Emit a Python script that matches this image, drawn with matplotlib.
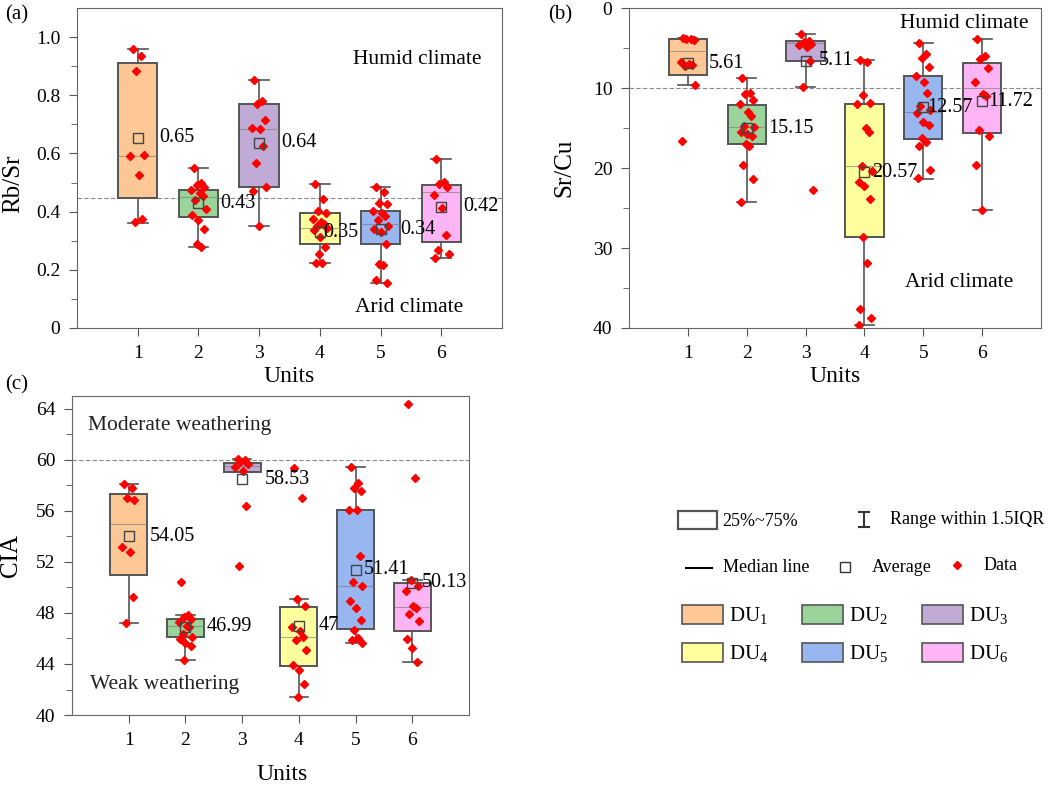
import matplotlib
matplotlib.use("Agg")
import matplotlib.pyplot as plt
from matplotlib.patches import Rectangle

plt.rcParams["font.family"] = ["Liberation Serif", "DejaVu Serif"]
plt.rcParams["mathtext.default"] = "regular"

UNITS = [1, 2, 3, 4, 5, 6]
COLORS = ["#fdc896", "#9ad49a", "#c0aad6", "#ffff9e", "#98b6f0", "#ffb4f5"]

# ---- (a) Rb/Sr -------------------------------------------------------------
RBSR_Q1 = [0.448, 0.383, 0.486, 0.290, 0.289, 0.295]
RBSR_MED = [0.592, 0.450, 0.685, 0.345, 0.358, 0.469]
RBSR_Q3 = [0.912, 0.475, 0.771, 0.394, 0.402, 0.491]
RBSR_LO = [0.362, 0.279, 0.351, 0.223, 0.153, 0.242]
RBSR_HI = [0.958, 0.549, 0.851, 0.494, 0.486, 0.580]
RBSR_MEAN = [0.654, 0.429, 0.637, 0.330, 0.339, 0.417]
RBSR_LABELS = ["0.65", "0.43", "0.64", "0.35", "0.34", "0.42"]
RBSR_DATA = [
    [0.96, 0.935, 0.885, 0.595, 0.59, 0.525, 0.375, 0.365],
    [0.549, 0.50, 0.49, 0.486, 0.474, 0.463, 0.454, 0.44, 0.41, 0.39,
     0.371, 0.34, 0.288, 0.279],
    [0.851, 0.78, 0.771, 0.714, 0.688, 0.685, 0.625, 0.568, 0.486, 0.471, 0.351],
    [0.494, 0.445, 0.402, 0.394, 0.375, 0.366, 0.358, 0.349, 0.343, 0.337,
     0.314, 0.28, 0.255, 0.223, 0.223],
    [0.486, 0.469, 0.431, 0.426, 0.402, 0.394, 0.385, 0.371, 0.351, 0.339,
     0.331, 0.288, 0.219, 0.215, 0.166, 0.153],
    [0.58, 0.503, 0.495, 0.486, 0.457, 0.411, 0.32, 0.269, 0.255, 0.242],
]
RBSR_THRESHOLD = 0.446

# ---- (b) Sr/Cu -------------------------------------------------------------
SRCU_Q1 = [3.9, 12.08, 4.17, 11.96, 8.54, 6.9]
SRCU_MED = [5.42, 14.92, 4.38, 19.75, 13.0, 10.0]
SRCU_Q3 = [8.42, 17.0, 6.58, 28.58, 16.4, 15.6]
SRCU_LO = [3.8, 8.71, 3.25, 6.54, 4.375, 3.9]
SRCU_HI = [9.58, 24.25, 9.875, 39.67, 21.33, 25.2]
SRCU_MEAN = [6.9, 15.0, 6.58, 20.5, 12.4, 11.67]
SRCU_LABELS = ["5.61", "15.15", "5.11", "20.57", "12.57", "11.72"]
SRCU_DATA = [
    [3.8, 3.85, 3.9, 3.95, 6.75, 6.96, 7.17, 7.3, 9.58, 16.67],
    [8.71, 10.6, 10.8, 11.46, 12.0, 13.04, 13.46, 14.7, 14.9, 15.5, 15.8,
     16.0, 17.0, 17.3, 19.67, 21.33, 24.25],
    [3.25, 4.08, 4.3, 4.5, 4.67, 4.9, 6.58, 9.9, 22.8],
    [6.54, 6.8, 10.83, 11.9, 12.04, 15.0, 15.46, 19.8, 20.4, 21.8, 22.3,
     23.9, 28.6, 31.9, 37.6, 38.75, 39.67],
    [4.4, 5.8, 6.2, 7.4, 8.5, 9.3, 10.6, 12.3, 12.7, 13.1, 14.3, 14.6,
     16.25, 16.8, 17.3, 20.2, 21.3],
    [3.9, 6.0, 6.4, 7.5, 9.3, 10.8, 11.0, 15.2, 16.0, 19.6, 25.2],
]
SRCU_THRESHOLD = 10

# ---- (c) CIA ---------------------------------------------------------------
CIA_Q1 = [51.0, 46.15, 59.07, 43.88, 46.72, 46.62]
CIA_MED = [54.96, 47.0, 59.52, 46.1, 50.14, 48.47]
CIA_Q3 = [57.35, 47.53, 59.78, 48.44, 56.05, 50.35]
CIA_LO = [47.24, 44.33, 59.07, 41.41, 45.68, 44.12]
CIA_HI = [58.08, 47.84, 60.04, 49.07, 59.47, 50.58]
CIA_MEAN = [54.0, 46.93, 58.48, 46.98, 51.39, 50.35]
CIA_LABELS = ["54.05", "46.99", "58.53", "47", "51.41", "50.13"]
CIA_DATA = [
    [58.08, 57.8, 57.04, 56.83, 53.13, 52.74, 49.28, 47.24],
    [50.45, 47.84, 47.7, 47.5, 47.3, 47.0, 46.9, 46.36, 46.1, 45.97, 45.63,
     45.37, 44.33],
    [60.09, 59.96, 59.86, 59.65, 59.4, 59.13, 56.39, 51.65],
    [59.34, 57.04, 49.07, 48.57, 46.88, 46.6, 46.1, 45.9, 45.1, 43.9, 43.55,
     42.45, 41.41],
    [59.47, 58.2, 57.8, 57.56, 56.05, 56.05, 52.43, 50.45, 50.14, 48.96,
     48.39, 47.45, 46.7, 46.0, 45.84, 45.68],
    [64.34, 58.6, 50.58, 50.14, 49.75, 48.57, 48.39, 47.92, 47.35, 45.97,
     45.26, 44.12],
]
CIA_THRESHOLD = 60

JITTER = [-0.08, 0.05, -0.03, 0.10, -0.12, 0.02, 0.07, -0.05, 0.12, -0.10,
          0.0, 0.09, -0.02, 0.04, -0.07, 0.11, -0.09]

EDGE = "#555555"


def draw_panel(ax, q1, med, q3, lo, hi, mean, labels, data, label_dx):
    stats = []
    for i in range(len(UNITS)):
        stats.append(dict(q1=q1[i], med=med[i], q3=q3[i], whislo=lo[i],
                          whishi=hi[i], mean=mean[i], fliers=[]))
    bp = ax.bxp(stats, positions=UNITS, widths=0.65, patch_artist=True,
                showmeans=True, showfliers=False,
                boxprops=dict(edgecolor=EDGE, linewidth=1.4),
                whiskerprops=dict(color=EDGE, linewidth=1.2),
                capprops=dict(color=EDGE, linewidth=1.2),
                medianprops=dict(color="#777777", linewidth=0.8, alpha=0.6),
                meanprops=dict(marker="s", markersize=7, markerfacecolor="none",
                               markeredgecolor="#444444", markeredgewidth=1.0))
    for patch, c in zip(bp["boxes"], COLORS):
        patch.set_facecolor(c)
    for m in bp["means"]:
        m.set_zorder(6)
    for u, vals in zip(UNITS, data):
        xs = [u + JITTER[k % len(JITTER)] for k in range(len(vals))]
        ax.plot(xs, vals, ls="none", marker="D", markersize=4.5,
                color="#ff0000", zorder=5)
    for u, m, lab, dx in zip(UNITS, mean, labels, label_dx):
        ax.text(u + dx, m, lab, fontsize=14.5, va="center", ha="left", zorder=7)
    ax.set_xlim(0, 7)
    ax.set_xticks(UNITS)
    for s in ax.spines.values():
        s.set_color("#666666")
    ax.tick_params(axis="both", which="both", direction="out", top=False,
                   right=False, colors="#555555", labelcolor="black",
                   labelsize=14, pad=6)
    ax.tick_params(which="major", length=6)
    ax.tick_params(which="minor", length=4)
    ax.set_xlabel("Units", fontsize=17)


fig = plt.figure(figsize=(10.59, 7.86), dpi=100)

# (a)
ax_a = fig.add_axes([0.0727, 0.5827, 0.4013, 0.4071])
draw_panel(ax_a, RBSR_Q1, RBSR_MED, RBSR_Q3, RBSR_LO, RBSR_HI, RBSR_MEAN,
           RBSR_LABELS, RBSR_DATA, [0.36, 0.36, 0.36, 0.05, 0.33, 0.36])
ax_a.axhline(RBSR_THRESHOLD, color="#888888", lw=0.8, ls=(0, (4, 2)), zorder=1)
ax_a.set_ylim(0, 1.1)
ax_a.set_yticks([0, 0.2, 0.4, 0.6, 0.8, 1.0])
ax_a.set_yticklabels(["0", "0.2", "0.4", "0.6", "0.8", "1.0"])
ax_a.set_yticks([0.1, 0.3, 0.5, 0.7, 0.9], minor=True)
ax_a.set_ylabel("Rb/Sr", fontsize=18)
ax_a.yaxis.set_label_coords(-0.125, 0.45)
ax_a.xaxis.set_label_coords(0.5, -0.119)
ax_a.text(6.67, 0.924, "Humid climate", fontsize=15.5, ha="right", va="center")
ax_a.text(6.36, 0.072, "Arid climate", fontsize=15.5, ha="right", va="center")

# (b)
ax_b = fig.add_axes([0.594, 0.5827, 0.389, 0.4071])
draw_panel(ax_b, SRCU_Q1, SRCU_MED, SRCU_Q3, SRCU_LO, SRCU_HI, SRCU_MEAN,
           SRCU_LABELS, SRCU_DATA, [0.36, 0.36, 0.22, 0.13, 0.07, 0.10])
ax_b.axhline(SRCU_THRESHOLD, color="#888888", lw=0.8, ls=(0, (4, 2)), zorder=1)
ax_b.set_ylim(40, 0)
ax_b.set_yticks([0, 10, 20, 30, 40])
ax_b.set_yticks([5, 15, 25, 35], minor=True)
ax_b.set_ylabel("Sr/Cu", fontsize=18)
ax_b.yaxis.set_label_coords(-0.13, 0.5)
ax_b.xaxis.set_label_coords(0.5, -0.119)
ax_b.text(6.78, 1.9, "Humid climate", fontsize=15.5, ha="right", va="center")
ax_b.text(6.53, 34.25, "Arid climate", fontsize=15.5, ha="right", va="center")

# (c)
ax_c = fig.add_axes([0.068, 0.0903, 0.3749, 0.4059])
draw_panel(ax_c, CIA_Q1, CIA_MED, CIA_Q3, CIA_LO, CIA_HI, CIA_MEAN,
           CIA_LABELS, CIA_DATA, [0.37, 0.37, 0.39, 0.34, 0.15, 0.17])
ax_c.axhline(CIA_THRESHOLD, color="#888888", lw=0.8, ls=(0, (4, 2)), zorder=1)
ax_c.set_ylim(40, 65)
ax_c.set_yticks([40, 44, 48, 52, 56, 60, 64])
ax_c.set_yticks([42, 46, 50, 54, 58, 62], minor=True)
ax_c.set_ylabel("CIA", fontsize=18)
ax_c.yaxis.set_label_coords(-0.125, 0.5)
ax_c.xaxis.set_label_coords(0.53, -0.154)
ax_c.text(0.28, 62.7, "Moderate weathering", fontsize=15.5, ha="left",
          va="center", color="#222222")
ax_c.text(0.32, 42.4, "Weak weathering", fontsize=15.5, ha="left", va="center",
          color="#222222")

fig.text(5 / 1059, 1 - 15 / 786, "(a)", fontsize=15, va="center")
fig.text(548 / 1059, 1 - 15 / 786, "(b)", fontsize=15, va="center")
fig.text(5 / 1059, 1 - 385 / 786, "(c)", fontsize=15, va="center")

# legend panel, drawn in pixel-like coordinates
lax = fig.add_axes([670 / 1059, (786 - 690) / 786, 389 / 1059, 200 / 786])
lax.set_xlim(670, 1059)
lax.set_ylim(690, 490)
lax.axis("off")
lax.add_patch(Rectangle((678, 511), 39, 18, facecolor="none", edgecolor=EDGE,
                        lw=1.6))
lax.text(722, 521, "25%~75%", fontsize=13, va="center")
lax.plot([864, 864], [512, 527], color="#333333", lw=1.5)
lax.plot([859, 869], [512, 512], color="#333333", lw=1.5)
lax.plot([859, 869], [527, 527], color="#333333", lw=1.5)
lax.text(890, 519, "Range within 1.5IQR", fontsize=13, va="center")
lax.plot([686, 712], [568, 568], color="black", lw=1.5)
lax.text(723, 567, "Median line", fontsize=13, va="center")
lax.plot([845], [567], marker="s", markersize=7, markerfacecolor="none",
         markeredgecolor="#333333", ls="none")
lax.text(872, 568, "Average", fontsize=13, va="center")
lax.plot([957], [565], marker="D", markersize=4.5, color="#ff0000", ls="none")
lax.text(984, 565, "Data", fontsize=13, va="center")
for i, c in enumerate(COLORS):
    col, row = i % 3, i // 3
    x0 = [682, 802, 922][col]
    y0 = [605, 643][row]
    lax.add_patch(Rectangle((x0, y0), 41, 19, facecolor=c, edgecolor=EDGE,
                            lw=1.2))
    lax.text(x0 + 47, y0 + 10, f"DU$_{{{i + 1}}}$", fontsize=15, va="center")

fig.savefig("out.png", dpi=100)
